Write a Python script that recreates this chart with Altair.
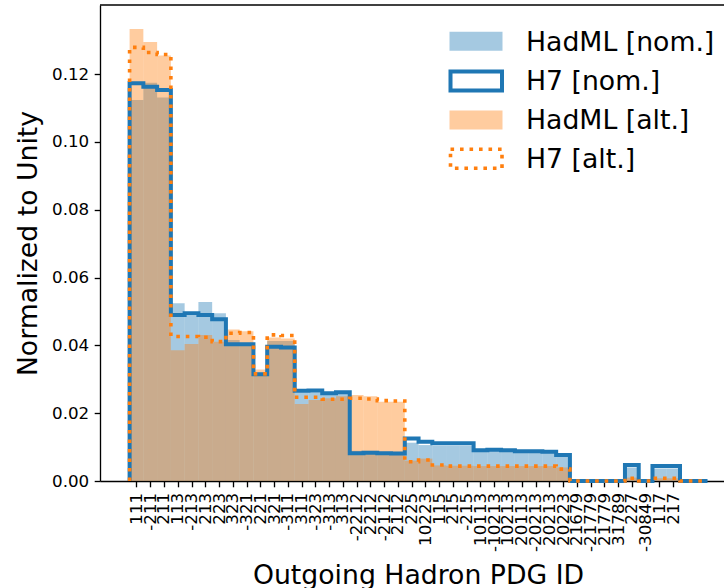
import json
import altair as alt
import pandas as pd

FONT = "DejaVu Sans"

labels = ["111", "-211", "211", "113", "-213", "213", "223", "323", "-321", "221",
          "321", "-311", "311", "-323", "-313", "313", "-2212", "2212", "-2112", "2112",
          "225", "10223", "115", "215", "-215", "10113", "-10213", "10213", "20113", "-20213",
          "20213", "20223", "21679", "-21779", "21779", "31789", "227", "-30849", "117", "217"]

# 42 bins (last two have no tick label and are empty)
hadml_nom = [0.1124, 0.1175, 0.1131, 0.0524, 0.0488, 0.0528, 0.0495, 0.0416, 0.0400, 0.0310,
             0.0413, 0.0413, 0.0262, 0.0262, 0.0258, 0.0260, 0.0089, 0.0089, 0.0086, 0.0086,
             0.0113, 0.0106, 0.0104, 0.0104, 0.0104, 0.0086, 0.0090, 0.0088, 0.0086, 0.0085,
             0.0085, 0.0074, 0.0, 0.0, 0.0, 0.0, 0.0040, 0.0, 0.0037, 0.0037,
             0.0, 0.0]
h7_nom = [0.1173, 0.1163, 0.1153, 0.0490, 0.0495, 0.0490, 0.0477, 0.0403, 0.0403, 0.0315,
          0.0396, 0.0394, 0.0266, 0.0267, 0.0259, 0.0262, 0.0082, 0.0083, 0.0082, 0.0081,
          0.0125, 0.0116, 0.0111, 0.0111, 0.0111, 0.0091, 0.0092, 0.0091, 0.0088, 0.0088,
          0.0086, 0.0077, 0.0, 0.0, 0.0, 0.0, 0.0047, 0.0, 0.0044, 0.0044,
          0.0, 0.0]
hadml_alt = [0.1333, 0.1295, 0.1255, 0.0386, 0.0404, 0.0431, 0.0411, 0.0447, 0.0442, 0.0329,
             0.0423, 0.0420, 0.0227, 0.0239, 0.0244, 0.0250, 0.0254, 0.0250, 0.0234, 0.0234,
             0.0060, 0.0066, 0.0046, 0.0045, 0.0045, 0.0044, 0.0044, 0.0044, 0.0044, 0.0044,
             0.0044, 0.0040, 0.0, 0.0, 0.0, 0.0, 0.0010, 0.0, 0.0008, 0.0008,
             0.0, 0.0]
h7_alt = [0.1279, 0.1264, 0.1258, 0.0426, 0.0426, 0.0424, 0.0411, 0.0436, 0.0438, 0.0316,
          0.0431, 0.0429, 0.0247, 0.0247, 0.0241, 0.0241, 0.0244, 0.0242, 0.0237, 0.0236,
          0.0057, 0.0062, 0.0047, 0.0044, 0.0044, 0.0044, 0.0044, 0.0044, 0.0044, 0.0044,
          0.0044, 0.0035, 0.0, 0.0, 0.0, 0.0, 0.0008, 0.0, 0.0008, 0.0008,
          0.0, 0.0]

legend_names = ["HadML [nom.]", "H7 [nom.]", "HadML [alt.]", "H7 [alt.]"]
y_ticks = [0.0, 0.02, 0.04, 0.06, 0.08, 0.10, 0.12]

BLUE = "#1f77b4"
ORANGE = "#ff7f0e"
N = len(h7_nom)

xscale = alt.Scale(domain=[-2.151, 43.198], nice=False, zero=False)
yscale = alt.Scale(domain=[0, 0.1404], nice=False, zero=False)


def bar_df(vals):
    return pd.DataFrame({"lo": list(range(N)), "hi": [i + 1 for i in range(N)],
                         "v": vals, "z": [0.0] * N})


def step_df(vals):
    xs, ys = [0], [0.0]
    for i, v in enumerate(vals):
        xs += [i, i + 1]
        ys += [v, v]
    xs.append(N)
    ys.append(0.0)
    return pd.DataFrame({"lo": xs, "v": ys, "o": list(range(len(xs)))})


label_expr = json.dumps(labels) + "[floor(datum.value)]"

xaxis = alt.Axis(values=[i + 0.5 for i in range(len(labels))], labelExpr=label_expr,
                 labelAngle=270, labelAlign="right", labelBaseline="middle",
                 labelFontSize=16.7, labelFont=FONT, labelColor="black", labelPadding=5.5,
                 labelOverlap=False, labelFlush=False, labelBound=False,
                 tickSize=5.8, tickWidth=1.33, tickColor="black",
                 domainColor="black", domainWidth=1.33, grid=False,
                 title="Outgoing Hadron PDG ID", titleFont=FONT, titleFontSize=26.7,
                 titleFontWeight="normal", titleColor="black",
                 titleX=318, titleY=102, titleBaseline="alphabetic", titleAlign="center")
yaxis = alt.Axis(values=y_ticks, format=".2f",
                 labelFontSize=16.7, labelFont=FONT, labelColor="black", labelPadding=5.5,
                 tickSize=5.8, tickWidth=1.33, tickColor="black",
                 domainColor="black", domainWidth=1.33, grid=False,
                 title="Normalized to Unity", titleFont=FONT, titleFontSize=26.7,
                 titleFontWeight="normal", titleColor="black", titleAngle=270,
                 titleX=-64, titleY=238, titleBaseline="alphabetic", titleAlign="center")

X = alt.X("lo:Q", scale=xscale, axis=xaxis)
Y = alt.Y("v:Q", scale=yscale, axis=yaxis)


def fill_layer(vals, color):
    return alt.Chart(bar_df(vals)).mark_rect(color=color, opacity=0.4, strokeWidth=0).encode(
        x=X, x2="hi:Q", y=Y, y2="z:Q")


def step_layer(vals, color, dash=None):
    kw = dict(color=color, strokeWidth=4 if dash is None else 3.6, strokeJoin="miter",
              strokeCap="butt")
    if dash is not None:
        kw["strokeDash"] = dash
    return alt.Chart(step_df(vals)).mark_line(**kw).encode(x=X, y=Y, order="o:Q")


dummy = pd.DataFrame({"a": [0]})
top_spine = alt.Chart(dummy).mark_rule(color="black", strokeWidth=1.33).encode(
    x=alt.value(0), x2=alt.value(624), y=alt.value(0))

rows = [(26.7, 45.7), (66.5, 85.5), (105.5, 124.5), (144.3, 163.3)]
leg = []
leg.append(alt.Chart(dummy).mark_rect(color=BLUE, opacity=0.4).encode(
    x=alt.value(349.5), x2=alt.value(402.5), y=alt.value(rows[0][0]), y2=alt.value(rows[0][1])))
leg.append(alt.Chart(dummy).mark_rect(fill="white", stroke=BLUE, strokeWidth=4,
                                      strokeJoin="miter").encode(
    x=alt.value(350.5), x2=alt.value(402), y=alt.value(rows[1][0]), y2=alt.value(rows[1][1])))
leg.append(alt.Chart(dummy).mark_rect(color=ORANGE, opacity=0.4).encode(
    x=alt.value(349.5), x2=alt.value(402.5), y=alt.value(rows[2][0]), y2=alt.value(rows[2][1])))
leg.append(alt.Chart(dummy).mark_rect(fill="white", stroke=ORANGE, strokeWidth=3.6,
                                      strokeDash=[3.6, 5.9]).encode(
    x=alt.value(350.5), x2=alt.value(402), y=alt.value(rows[3][0]), y2=alt.value(rows[3][1])))
baselines = [45.7, 85.0, 124.0, 163.0]
for name, b in zip(legend_names, baselines):
    leg.append(alt.Chart(dummy).mark_text(text=name, font=FONT, fontSize=26.7, color="black",
                                          align="left", baseline="alphabetic").encode(
        x=alt.value(426), y=alt.value(b)))

chart = alt.layer(
    fill_layer(hadml_nom, BLUE),
    fill_layer(hadml_alt, ORANGE),
    step_layer(h7_nom, BLUE),
    step_layer(h7_alt, ORANGE, dash=[3.6, 5.9]),
    top_spine,
    *leg,
).properties(
    width=624, height=476,
    autosize=alt.AutoSizeParams(type="none"),
    padding={"left": 100, "top": 5, "right": 0, "bottom": 107},
    background="white",
).configure_view(stroke=None)

chart.save("out.html", embed_options={"renderer": "svg", "actions": False})
